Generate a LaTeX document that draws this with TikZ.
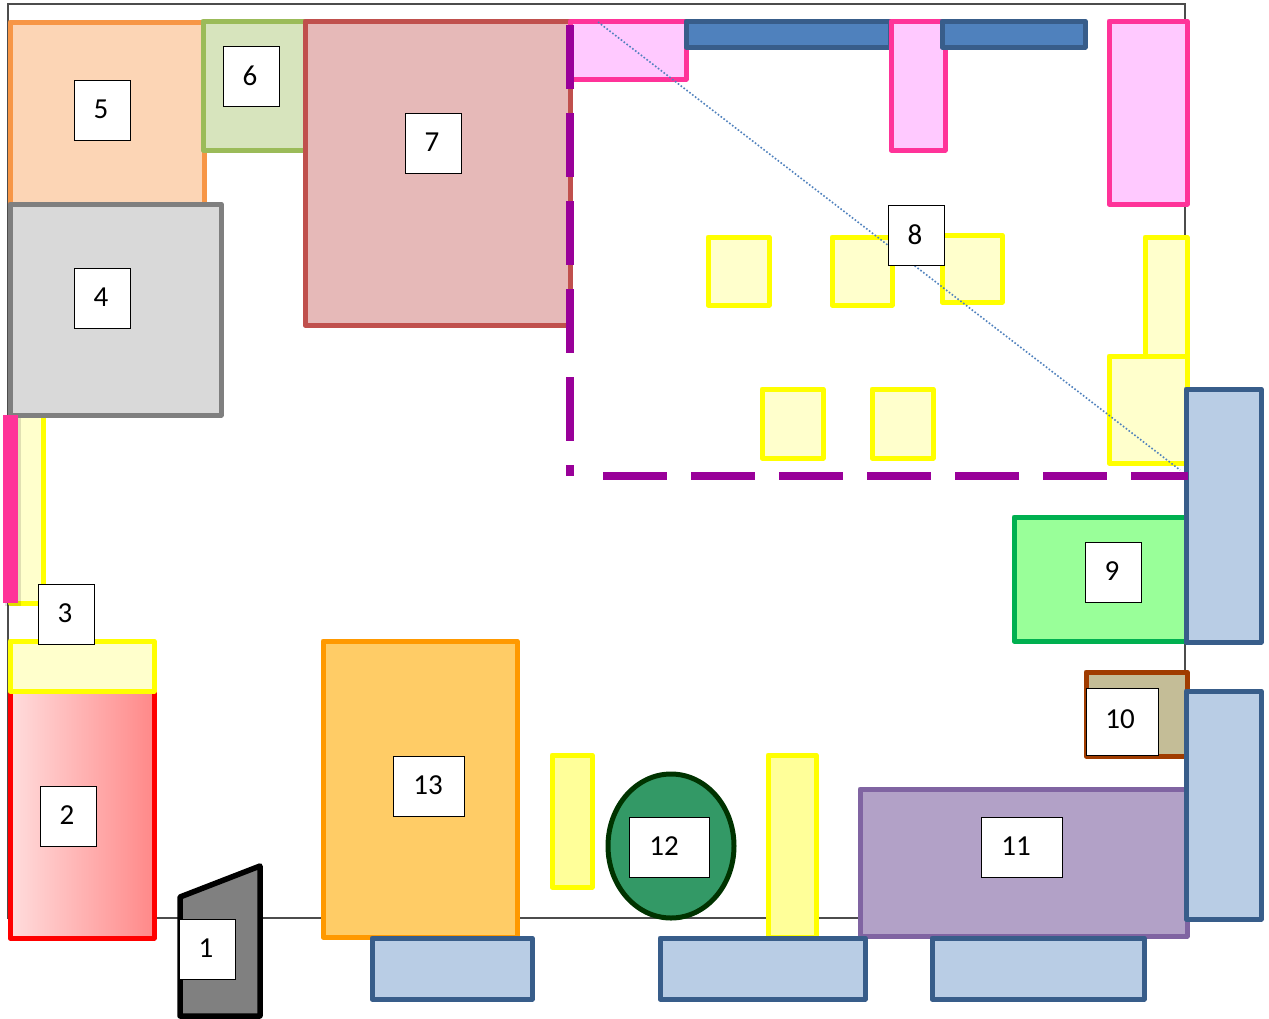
\documentclass[tikz,border=0pt]{standalone}
\usepackage{fontspec}
\setmainfont{Carlito}
\usepackage{color}
\definecolor{pinkline}{HTML}{FF3399}
\definecolor{pinkfill}{HTML}{FFC9FF}
\definecolor{navyline}{HTML}{385D8A}
\definecolor{navyfill}{HTML}{4F81BD}
\definecolor{paleblue}{HTML}{B9CDE5}
\definecolor{pureyellow}{HTML}{FFFF00}
\definecolor{paleyellow}{HTML}{FFFFCC}
\definecolor{softyellow}{HTML}{FFFF99}
\definecolor{purpleline}{HTML}{990099}
\definecolor{orangeline}{HTML}{F79646}
\definecolor{orangefill}{HTML}{FCD5B5}
\definecolor{greenline}{HTML}{9BBB59}
\definecolor{greenfill}{HTML}{D7E4BD}
\definecolor{redline}{HTML}{C0504D}
\definecolor{redfill}{HTML}{E6B9B8}
\definecolor{grayline}{HTML}{7F7F7F}
\definecolor{grayfill}{HTML}{D9D9D9}
\definecolor{puretred}{HTML}{FF0000}
\definecolor{amberline}{HTML}{FF9900}
\definecolor{amberfill}{HTML}{FFCC66}
\definecolor{darkgreen}{HTML}{003300}
\definecolor{seagreen}{HTML}{339966}
\definecolor{violetline}{HTML}{8064A2}
\definecolor{violetfill}{HTML}{B2A1C7}
\definecolor{brownline}{HTML}{A03C00}
\definecolor{brownfill}{HTML}{C4BD97}
\definecolor{limeline}{HTML}{00B050}
\definecolor{limefill}{HTML}{99FF99}
\definecolor{gradleft}{HTML}{FFDDDD}
\definecolor{gradright}{HTML}{FF8888}
\tikzset{
  room/.style={line width=5pt,line join=round},
  yellowroom/.style={room,draw=pureyellow,fill=paleyellow},
  pinkroom/.style={room,draw=pinkline,fill=pinkfill},
  blueroom/.style={room,draw=navyline,fill=paleblue},
  navybar/.style={room,draw=navyline,fill=navyfill},
  wall/.style={line width=8pt,color=purpleline,dash pattern=on 64pt off 24pt},
  wallshadow/.style={line width=8pt,color=black,opacity=.15,dash pattern=on 64pt off 24pt},
  tag/.style={draw=black,fill=white,line width=1pt,inner sep=0pt,minimum width=56pt,minimum height=60pt,
    font=\fontsize{29}{34}\selectfont}
}

\begin{document}
\begin{tikzpicture}[x=1pt,y=-1pt]
   \useasboundingbox (0,0) rectangle (1269,1018);
   \fill[white] (0,0) rectangle (1269,1018);
   \draw[line width=1.2pt,color=black!70] (8,4) rectangle (1185,918);

   \draw[yellowroom] (10,415) rectangle (43,603);
   \draw[room,draw=orangeline,fill=orangefill] (10,22) rectangle (204,204);
   \draw[room,draw=greenline,fill=greenfill] (203,21) rectangle (305,150);
   \draw[room,draw=redline,fill=redfill] (305,21) rectangle (570,325);
   \draw[room,draw=grayline,fill=grayfill] (10,204) rectangle (221,415);

   \draw[pinkroom] (570,21) rectangle (686,79);
   \draw[navybar] (686,21) rectangle (890,47);
   \draw[pinkroom] (891,21) rectangle (945,150);
   \draw[navybar] (942,21) rectangle (1085,47);
   \draw[pinkroom] (1109,21) rectangle (1187,204);

   \foreach \xa/\ya/\xb/\yb in {708/237/769/305,832/237/892/305,942/235/1002/302,1145/237/1187/356,1109/356/1187/463,762/389/823/458,872/389/933/458}
     \draw[yellowroom] (\xa,\ya) rectangle (\xb,\yb);

   \coordinate (dotstart) at (598,22);
   \coordinate (dotend) at (1180,470);
   \draw[line width=1.6pt,color=navyfill,dotted] (dotstart) -- (dotend);

   \fill[black,opacity=.12] (5,418) rectangle (21,606);
   \fill[pinkline] (3,415) rectangle (18,603);

   \draw[room,left color=gradleft,right color=gradright,draw=puretred] (10,691) rectangle (154,938);
   \draw[yellowroom] (10,641) rectangle (154,691);

   \draw[line width=5.5pt,line join=round,fill=black!50] (180,897) -- (260,866) -- (260,1016) -- (180,1016) -- cycle;

   \draw[room,draw=amberline,fill=amberfill] (323,641) rectangle (517,937);
   \draw[yellowroom,fill=softyellow] (552,755) rectangle (592,887);
   \draw[line width=5pt,draw=darkgreen,fill=seagreen] (671,846) ellipse (63 and 72);
   \draw[yellowroom,fill=softyellow] (768,755) rectangle (816,937);

   \draw[room,draw=violetline,fill=violetfill] (860,789) rectangle (1187,936);
   \draw[room,draw=brownline,fill=brownfill] (1086,672) rectangle (1187,756);
   \draw[room,draw=limeline,fill=limefill] (1014,517) rectangle (1187,641);

   \foreach \xa/\ya/\xb/\yb in {1186/389/1261/642,1186/691/1261/919,372/938/532/999,660/938/865/999,932/938/1144/999}
     \draw[blueroom] (\xa,\ya) rectangle (\xb,\yb);

   \coordinate (vwalltop) at (570,25);
   \coordinate (vwallend) at (570,476);
   \coordinate (hwallstart) at (603,476);
   \coordinate (hwallend) at (1188,476);
   \draw[wallshadow,shift={(1.5,3)}] (vwalltop) -- (vwallend);
   \draw[wallshadow,shift={(1.5,3)}] (hwallstart) -- (hwallend);
   \draw[wall] (vwalltop) -- (vwallend);
   \draw[wall] (hwallstart) -- (hwallend);

   \foreach \n/\x/\y in {1/207.5/949,2/68.5/816,3/66.5/614,4/102.5/298,5/102.5/110,6/251.5/76,7/433.5/143,8/916.5/235,9/1113.5/572}
     \node[tag] (n\n) at (\x,\y) {\raisebox{1pt}{\n}\kern3pt};
   \node[tag,minimum width=72pt,minimum height=67pt] (n10) at (1122,722) {\raisebox{6pt}{10}\kern4pt};
   \node[tag,minimum width=81pt] (n11) at (1021.5,847) {\raisebox{1pt}{11}\kern11pt};
   \node[tag,minimum width=80pt] (n12) at (669,847) {\raisebox{1pt}{12}\kern10pt};
   \node[tag,minimum width=71pt] (n13) at (428.5,786) {\raisebox{1pt}{13}\kern1pt};
\end{tikzpicture}
\end{document}
